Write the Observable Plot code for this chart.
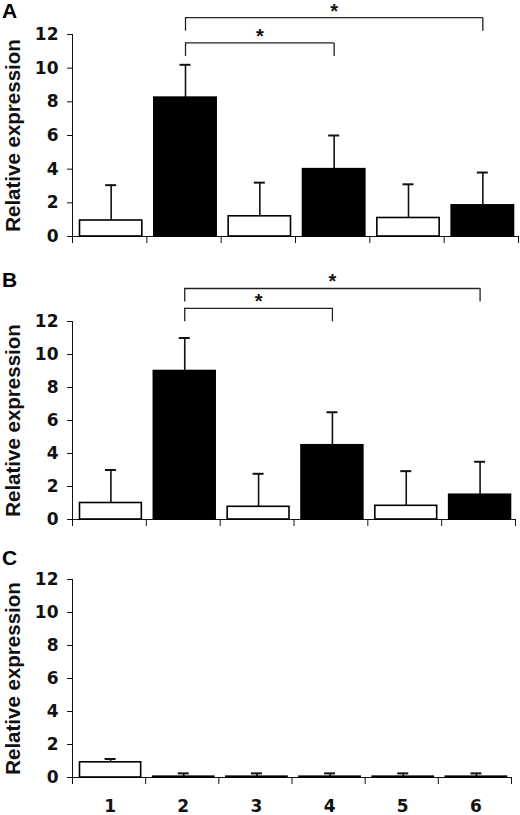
<!DOCTYPE html>
<html>
<head>
<meta charset="utf-8">
<script src="https://cdn.jsdelivr.net/npm/d3@7"></script>
<script src="https://cdn.jsdelivr.net/npm/@observablehq/plot@0.6"></script>
<style>
  body { margin: 0; background: #fff; width: 520px; }
  .panel { position: relative; width: 520px; }
  .letter { position: absolute; left: 2px; font: bold 21px "Liberation Sans", Arial, sans-serif; line-height: 1; }
</style>
</head>
<body>
<div id="chart"></div>
<script>
const categories = ["1", "2", "3", "4", "5", "6"];
const yTicks = [0, 2, 4, 6, 8, 10, 12];

// panel A
const meanA = [0.95, 8.25, 1.2, 4.0, 1.1, 1.85];
const errA = [2.1, 1.95, 2.0, 2.0, 2.0, 1.95];
const bracketsA = [{from: 2, to: 4, level: 11.5}, {from: 2, to: 6, level: 13.0}];

// panel B
const meanB = [1.0, 9.0, 0.77, 4.5, 0.83, 1.5];
const errB = [2.0, 2.0, 2.0, 2.0, 2.1, 2.0];
const bracketsB = [{from: 2, to: 4, level: 12.8}, {from: 2, to: 6, level: 14.0}];

// panel C
const meanC = [0.92, 0.05, 0.05, 0.05, 0.05, 0.05];
const errC = [0.2, 0.2, 0.2, 0.2, 0.2, 0.2];
const bracketsC = [];

const sans = '"Liberation Sans", Arial, sans-serif';
const wide = '"DejaVu Sans", sans-serif';

function panel({mean, err, brackets, height, mt, mb, mr, showX}) {
  const rows = categories.map((c, i) => ({pos: i + 1, label: c, mean: mean[i], top: mean[i] + err[i], dark: i % 2 === 1}));
  const edges = d3.range(categories.length + 1).map(i => i + 0.5);
  const ends = brackets.flatMap(b => [{x: b.from, y: b.level}, {x: b.to, y: b.level}]);

  const marks = [
    Plot.ruleX(rows, {x: "pos", y1: "mean", y2: "top", dx: 1.5, strokeWidth: 1.6}),
    Plot.ruleY(rows, {y: "top", x1: "pos", x2: "pos", dx: 1.5, insetLeft: -5.5, insetRight: -5.5, strokeWidth: 2}),
    Plot.rectY(rows.filter(d => !d.dark), {x1: d => d.pos - 0.5, x2: d => d.pos + 0.5, y: "mean", insetLeft: 7.5, insetRight: 4.5, fill: "white", stroke: "black", strokeWidth: 1.6}),
    Plot.rectY(rows.filter(d => d.dark), {x1: d => d.pos - 0.5, x2: d => d.pos + 0.5, y: "mean", insetLeft: 7.5, insetRight: 4.5, fill: "black", stroke: "black", strokeWidth: 1.6}),
    Plot.ruleY(brackets, {y: "level", x1: "from", x2: "to", dx: 1.5, stroke: "#222", strokeWidth: 1.3}),
    Plot.ruleX(ends, {x: "x", y1: "y", y2: "y", dx: 1.5, insetBottom: -13.5, stroke: "#222", strokeWidth: 1.3}),
    Plot.text(brackets, {x: d => (d.from + d.to) / 2, y: "level", text: () => "*", dx: 1.5, dy: -6.5, fontSize: 20, fontFamily: sans, lineAnchor: "middle"}),
    Plot.text(["Relative expression"], {frameAnchor: "left", text: d => d, rotate: -90, dx: -59, fontSize: 20.5, fontFamily: sans, lineAnchor: "middle", textAnchor: "middle"})
  ];
  if (showX) {
    marks.push(Plot.text(rows, {x: "pos", text: "label", frameAnchor: "bottom", dx: 1, dy: 29, fontSize: 17, lineAnchor: "middle"}));
  }

  return Plot.plot({
    width: 520,
    height,
    marginTop: mt,
    marginBottom: mb,
    marginLeft: 72,
    marginRight: mr,
    style: {fontFamily: wide, fontSize: "17px", fontWeight: "bold", color: "#111", background: "white"},
    x: {domain: [0.5, 6.5], ticks: edges, tickSize: 7, tickFormat: () => "", line: true, label: null},
    y: {domain: [0, 12], ticks: yTicks, tickSize: 5, tickPadding: 9, line: true, label: null},
    marks
  });
}

const panels = [
  {letter: "A", letterTop: 0, mean: meanA, err: errA, brackets: bracketsA, height: 250, mt: 34, mb: 14, mr: 2, showX: false},
  {letter: "B", letterTop: 19, mean: meanB, err: errB, brackets: bracketsB, height: 280, mt: 71, mb: 11, mr: 5, showX: false},
  {letter: "C", letterTop: 17, mean: meanC, err: errC, brackets: bracketsC, height: 285, mt: 49, mb: 38, mr: 9, showX: true}
];

for (const p of panels) {
  const div = d3.select("#chart").append("div").attr("class", "panel");
  div.append(() => panel(p));
  div.append("div").attr("class", "letter").style("top", p.letterTop + "px").text(p.letter);
}
</script>
</body>
</html>
